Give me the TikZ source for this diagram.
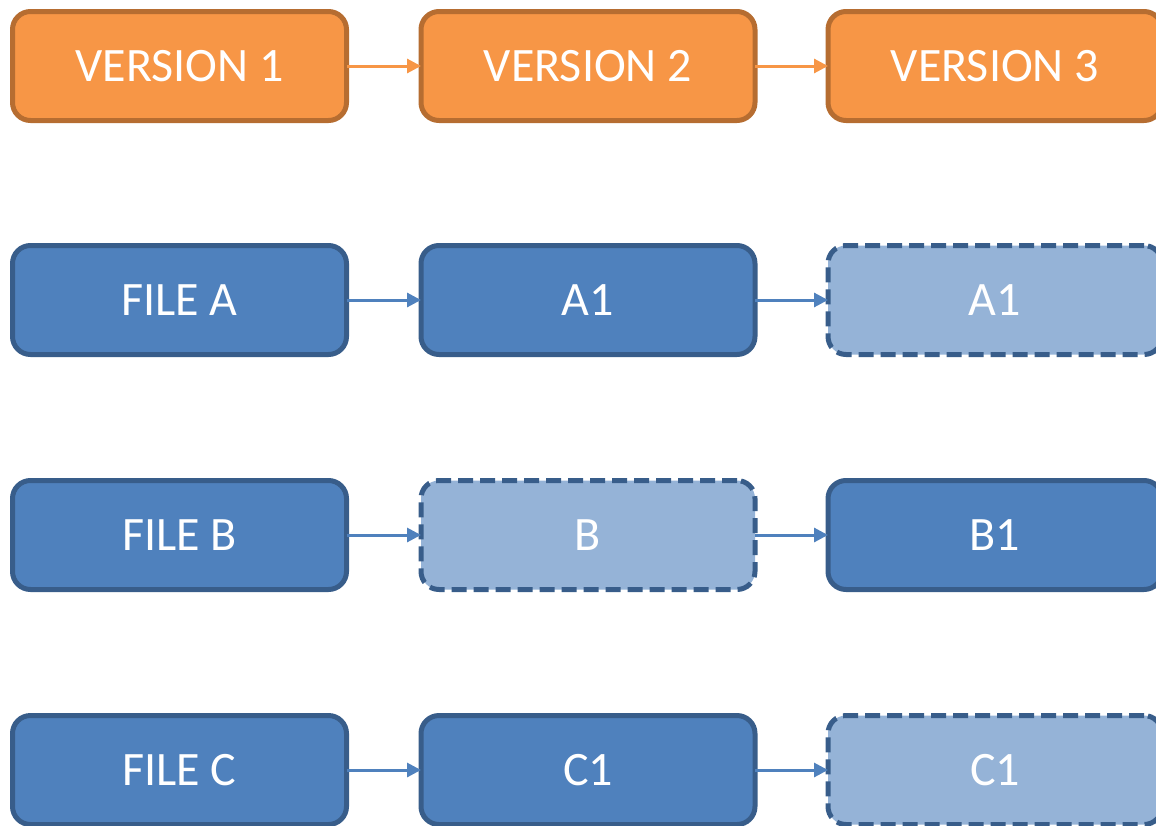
\documentclass[tikz,border=0pt]{standalone}
\usepackage{fontspec}
\setmainfont{Carlito}
\usetikzlibrary{arrows.meta}
\definecolor{orfill}{HTML}{F79646}
\definecolor{ordraw}{HTML}{B66D31}
\definecolor{blfill}{HTML}{4F81BD}
\definecolor{bldraw}{HTML}{385D8A}
\definecolor{ltfill}{HTML}{95B3D7}
\tikzset{
  box/.style={rounded corners=18pt, line width=5pt, minimum width=334pt, minimum height=109pt,
    text=white, font=\fontsize{48}{52}\selectfont, inner sep=0pt, outer sep=0pt},
  verbox/.style={box, fill=orfill, draw=ordraw},
  filebox/.style={box, fill=blfill, draw=bldraw},
  ghostbox/.style={box, fill=ltfill, draw=bldraw, dash pattern=on 15pt off 7pt},
  orarrow/.style={draw=orfill, line width=3pt, -{Triangle[length=14pt,width=14pt]}},
  blarrow/.style={draw=blfill, line width=3pt, -{Triangle[length=14pt,width=14pt]}},
}
\begin{document}
\begin{tikzpicture}[x=1pt,y=-1pt]
\useasboundingbox (0,0) rectangle (1156,825);
\node[verbox] (v1) at (179.5,66) {VERSION 1};
\node[verbox] (v2) at (588,66) {VERSION 2};
\node[verbox] (v3) at (995,66) {VERSION 3};
\node[filebox] (fa) at (179.5,300) {FILE A};
\node[filebox] (a1) at (588,300) {A1};
\node[ghostbox] (a1g) at (995,300) {A1};
\node[filebox] (fb) at (179.5,535) {FILE B};
\node[ghostbox] (bg) at (588,535) {B};
\node[filebox] (b1) at (995,535) {B1};
\node[filebox] (fc) at (179.5,770) {FILE C};
\node[filebox] (c1) at (588,770) {C1};
\node[ghostbox] (c1g) at (995,770) {C1};
\draw[orarrow] (v1.east) -- (v2.west);
\draw[orarrow] (v2.east) -- (v3.west);
\draw[blarrow] (fa.east) -- (a1.west);
\draw[blarrow] (a1.east) -- (a1g.west);
\draw[blarrow] (fb.east) -- (bg.west);
\draw[blarrow] (bg.east) -- (b1.west);
\draw[blarrow] (fc.east) -- (c1.west);
\draw[blarrow] (c1.east) -- (c1g.west);
\end{tikzpicture}
\end{document}
